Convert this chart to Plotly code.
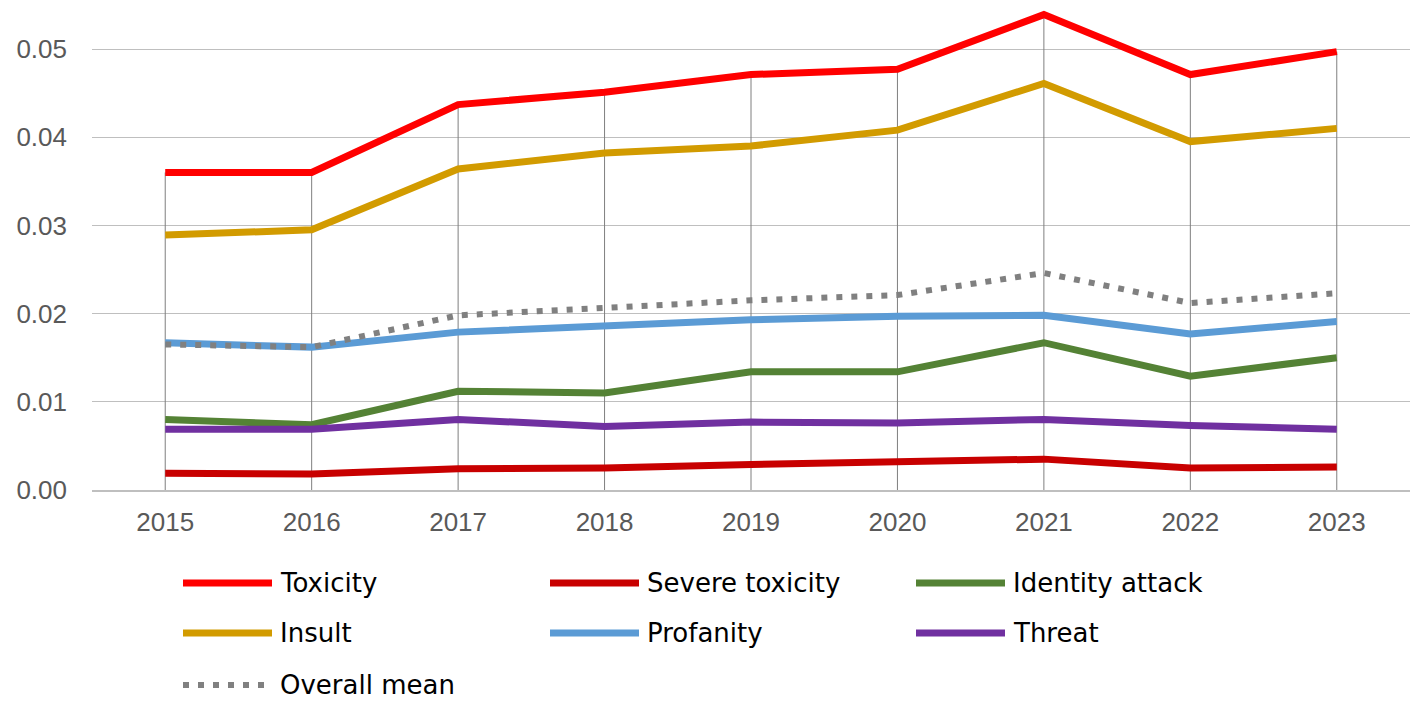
import plotly.graph_objects as go

years = ["2015", "2016", "2017", "2018", "2019", "2020", "2021", "2022", "2023"]

toxicity = [0.0360, 0.0360, 0.0437, 0.0451, 0.0471, 0.0477, 0.0539, 0.0471, 0.0497]
severe_toxicity = [0.0019, 0.0018, 0.0024, 0.0025, 0.0029, 0.0032, 0.0035, 0.0025, 0.0026]
identity_attack = [0.0080, 0.0074, 0.0112, 0.0110, 0.0134, 0.0134, 0.0167, 0.0129, 0.0150]
insult = [0.0289, 0.0295, 0.0364, 0.0382, 0.0390, 0.0408, 0.0461, 0.0395, 0.0410]
profanity = [0.0167, 0.0162, 0.0179, 0.0186, 0.0193, 0.0197, 0.0198, 0.0177, 0.0191]
threat = [0.0069, 0.0069, 0.0080, 0.0072, 0.0077, 0.0076, 0.0080, 0.0073, 0.0069]
overall_mean = [0.0165, 0.0162, 0.0198, 0.0206, 0.0215, 0.0221, 0.0246, 0.0212, 0.0223]

series = [
    ("Toxicity", toxicity, "#FF0000", "solid"),
    ("Severe toxicity", severe_toxicity, "#C80000", "solid"),
    ("Identity attack", identity_attack, "#548235", "solid"),
    ("Insult", insult, "#D29B00", "solid"),
    ("Profanity", profanity, "#5B9BD5", "solid"),
    ("Threat", threat, "#7030A0", "solid"),
    ("Overall mean", overall_mean, "#808080", "6px,9px"),
]

# the page puts the figure 8px in from the top-left corner
OFF = 8
W, H = 1425 - OFF, 709 - OFF
ML, MR, MT, MB = 92 - OFF, 15, 0, 219
PW, PH = W - ML - MR, H - MT - MB
Y_TOP = 0.05 * PH / 441.0


def px_x(x):
    return (x - OFF - ML) / PW


def px_y(y):
    return (H - MB - (y - OFF)) / PH


fig = go.Figure()

# drop lines from the top series down to the axis
drop_x, drop_y = [], []
for yr, v in zip(years, toxicity):
    drop_x += [yr, yr, None]
    drop_y += [0, v, None]
fig.add_trace(go.Scatter(x=drop_x, y=drop_y, mode="lines",
                         line=dict(color="#7f7f7f", width=1),
                         hoverinfo="skip", showlegend=False))

for name, vals, color, dash in series:
    fig.add_trace(go.Scatter(
        x=years, y=vals, name=name, mode="lines",
        line=dict(color=color, width=7 if dash == "solid" else 6, dash=dash),
        showlegend=False,
    ))

# legend drawn by hand: 3 columns, long line samples
col_x = [183, 550, 916]
row_y = [583, 633, 685]
for i, (name, vals, color, dash) in enumerate(series):
    cx = col_x[i % 3]
    cy = row_y[i // 3]
    x1 = cx + 89 if dash == "solid" else cx + 84
    fig.add_shape(type="line", xref="paper", yref="paper",
                  x0=px_x(cx), x1=px_x(x1), y0=px_y(cy), y1=px_y(cy),
                  line=dict(color=color, width=7 if dash == "solid" else 6, dash=dash))
    fig.add_annotation(xref="paper", yref="paper", x=px_x(cx + 95), y=px_y(cy),
                       text=name, showarrow=False, xanchor="left", yanchor="middle",
                       font=dict(family="DejaVu Sans", size=26, color="#000000"))

fig.update_layout(
    width=W, height=H,
    margin=dict(l=ML, r=MR, t=MT, b=MB),
    plot_bgcolor="white", paper_bgcolor="white",
    showlegend=False,
    font=dict(family="Liberation Sans, Arial", color="#595959"),
)

fig.update_xaxes(
    type="category", range=[-0.5, 8.5],
    showgrid=False, showline=True, linecolor="#bfbfbf", linewidth=1.5,
    ticks="", ticklabelstandoff=8,
    tickfont=dict(size=26, color="#595959"),
)
fig.update_yaxes(
    range=[0, Y_TOP], tickvals=[0, 0.01, 0.02, 0.03, 0.04, 0.05], tickformat=".2f",
    showgrid=True, gridcolor="#bfbfbf", gridwidth=1,
    zeroline=False, showline=False,
    ticks="", ticklabelstandoff=24,
    tickfont=dict(size=26, color="#595959"),
)

fig.write_html("out.html")
